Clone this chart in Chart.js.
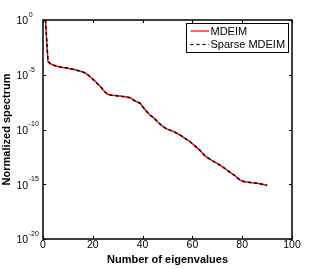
<!DOCTYPE html>
<html><head><meta charset="utf-8">
<script src="https://cdn.jsdelivr.net/npm/chart.js@4.4.1/dist/chart.umd.min.js"></script>
<style>html,body{margin:0;padding:0;background:#fff}#w{width:323px;height:269px;position:relative}</style>
</head><body><div id="w"><canvas id="c"></canvas></div>
<script>
const eigIndex = [1,2,3,4,5,6,7,8,9,10,11,12,13,14,15,16,17,18,19,20,21,22,23,24,25,26,27,28,29,30,
  31,32,33,34,35,36,37,38,39,40,41,42,43,44,45,46,47,48,49,50,51,52,53,54,55,56,57,58,59,60,
  61,62,63,64,65,66,67,68,69,70,71,72,73,74,75,76,77,78,79,80,81,82,83,84,85,86,87,88,89,90];
// log10 of the normalized spectrum
const mdeimLog10 = [0,-3.8,-4.0,-4.1,-4.18,-4.25,-4.3,-4.33,-4.37,-4.4,
  -4.45,-4.5,-4.55,-4.62,-4.68,-4.75,-4.85,-5.0,-5.2,-5.4,
  -5.6,-5.85,-6.05,-6.35,-6.6,-6.78,-6.85,-6.88,-6.9,-6.93,
  -6.95,-6.98,-7.0,-7.05,-7.1,-7.25,-7.4,-7.5,-7.6,-7.9,
  -8.2,-8.45,-8.7,-8.85,-9.05,-9.3,-9.5,-9.7,-9.85,-9.98,
  -10.06,-10.15,-10.25,-10.38,-10.5,-10.65,-10.8,-10.95,-11.1,-11.3,
  -11.5,-11.7,-11.9,-12.15,-12.4,-12.55,-12.7,-12.85,-12.98,-13.1,
  -13.25,-13.4,-13.55,-13.72,-13.9,-14.05,-14.2,-14.4,-14.6,-14.7,
  -14.77,-14.8,-14.83,-14.86,-14.88,-14.9,-14.95,-15.0,-15.05,-15.1];
const sparseLog10 = [0,-3.8,-4.0,-4.1,-4.18,-4.25,-4.3,-4.33,-4.37,-4.4,
  -4.45,-4.5,-4.55,-4.62,-4.68,-4.75,-4.85,-5.0,-5.2,-5.4,
  -5.6,-5.85,-6.05,-6.35,-6.6,-6.78,-6.85,-6.88,-6.9,-6.93,
  -6.95,-6.98,-7.0,-7.05,-7.1,-7.25,-7.4,-7.5,-7.6,-7.9,
  -8.2,-8.45,-8.7,-8.85,-9.05,-9.3,-9.5,-9.7,-9.85,-9.98,
  -10.06,-10.15,-10.25,-10.38,-10.5,-10.65,-10.8,-10.95,-11.1,-11.3,
  -11.5,-11.7,-11.9,-12.15,-12.4,-12.55,-12.7,-12.85,-12.98,-13.1,
  -13.25,-13.4,-13.55,-13.72,-13.9,-14.05,-14.2,-14.4,-14.6,-14.7,
  -14.77,-14.8,-14.83,-14.86,-14.88,-14.9,-14.95,-15.0,-15.05,-15.1];
const seriesNames = ['MDEIM', 'Sparse MDEIM'];
const xTicks = [0, 20, 40, 60, 80, 100];
const yTickExps = [0, -5, -10, -15, -20];
const xTitle = 'Number of eigenvalues';
const yTitle = 'Normalized spectrum';

const toPts = (logs) => eigIndex.map((n, i) => ({x: n, y: Math.pow(10, logs[i])}));

const FONT = '"Liberation Sans", Arial, Helvetica, sans-serif';

const matlabAxes = {
  id: 'matlabAxes',
  afterDraw(chart) {
    const ctx = chart.ctx;
    const a = chart.chartArea;
    const xs = chart.scales.x, ys = chart.scales.y;
    ctx.save();
    ctx.strokeStyle = '#000';
    ctx.fillStyle = '#000';
    ctx.lineWidth = 1;
    ctx.beginPath();
    xTicks.forEach(v => {
      const px = Math.round(xs.getPixelForValue(v)) + 0.5;
      ctx.moveTo(px, a.bottom); ctx.lineTo(px, a.bottom - 3);
      ctx.moveTo(px, a.top); ctx.lineTo(px, a.top + 3);
    });
    yTickExps.forEach(e => {
      const py = Math.round(ys.getPixelForValue(Math.pow(10, e))) + 0.5;
      ctx.moveTo(a.left, py); ctx.lineTo(a.left + 3, py);
      ctx.moveTo(a.right, py); ctx.lineTo(a.right - 3, py);
    });
    ctx.stroke();
    ctx.lineWidth = 1.5;
    ctx.strokeRect(a.left, a.top, a.right - a.left, a.bottom - a.top);
    ctx.font = '10.5px ' + FONT;
    ctx.textAlign = 'center';
    ctx.textBaseline = 'middle';
    xTicks.forEach(v => {
      ctx.fillText(String(v), xs.getPixelForValue(v), a.bottom + 6.5);
    });
    yTickExps.forEach(e => {
      const py = ys.getPixelForValue(Math.pow(10, e));
      ctx.font = '10.5px ' + FONT;
      ctx.textAlign = 'left';
      ctx.textBaseline = 'middle';
      ctx.fillText('10', 16.5, py + 1.5);
      const w = ctx.measureText('10').width;
      ctx.font = '7px ' + FONT;
      ctx.fillText(String(e), 16.5 + w + 0.5, py - 5);
    });
    ctx.font = 'bold 11px ' + FONT;
    ctx.textAlign = 'center';
    ctx.textBaseline = 'alphabetic';
    ctx.fillText(xTitle, (a.left + a.right) / 2, a.bottom + 23.5);
    ctx.save();
    ctx.translate(10, (a.top + a.bottom) / 2);
    ctx.rotate(-Math.PI / 2);
    ctx.fillText(yTitle, 0, 0);
    ctx.restore();
    const lx = 186.5, ly = 23.5, lw = 102, lh = 29;
    ctx.fillStyle = '#fff';
    ctx.fillRect(lx, ly, lw, lh);
    ctx.lineWidth = 1;
    ctx.strokeStyle = '#000';
    ctx.strokeRect(lx, ly, lw, lh);
    const ds = chart.data.datasets;
    const rows = [31, 44.5];
    ds.forEach((d, i) => {
      ctx.beginPath();
      ctx.strokeStyle = d.borderColor;
      ctx.lineWidth = 1.2;
      ctx.setLineDash(d.borderDash || []);
      ctx.moveTo(190.5, rows[i]); ctx.lineTo(209, rows[i]);
      ctx.stroke();
      ctx.setLineDash([]);
      ctx.fillStyle = '#000';
      ctx.font = '11px ' + FONT;
      ctx.textAlign = 'left';
      ctx.textBaseline = 'middle';
      ctx.fillText(d.label, 210.5, rows[i] + 0.5);
    });
    ctx.restore();
  }
};

new Chart(document.getElementById('c'), {
  type: 'line',
  data: {
    datasets: [
      {label: seriesNames[0], data: toPts(mdeimLog10), borderColor: '#ff0000', borderWidth: 1.5,
       pointRadius: 0, tension: 0, order: 1, fill: false},
      {label: seriesNames[1], data: toPts(sparseLog10), borderColor: '#000000', borderWidth: 1.5,
       borderDash: [3, 3], pointRadius: 0, tension: 0, order: 0, fill: false}
    ]
  },
  options: {
    responsive: true,
    maintainAspectRatio: false,
    devicePixelRatio: 1,
    animation: false,
    layout: {padding: {left: 43, top: 20, right: 31, bottom: 30}},
    scales: {
      x: {type: 'linear', min: 0, max: 100, display: false},
      y: {type: 'logarithmic', min: 1e-20, max: 1, display: false}
    },
    plugins: {legend: {display: false}, tooltip: {enabled: false}}
  },
  plugins: [matlabAxes]
});
</script>
</body></html>
